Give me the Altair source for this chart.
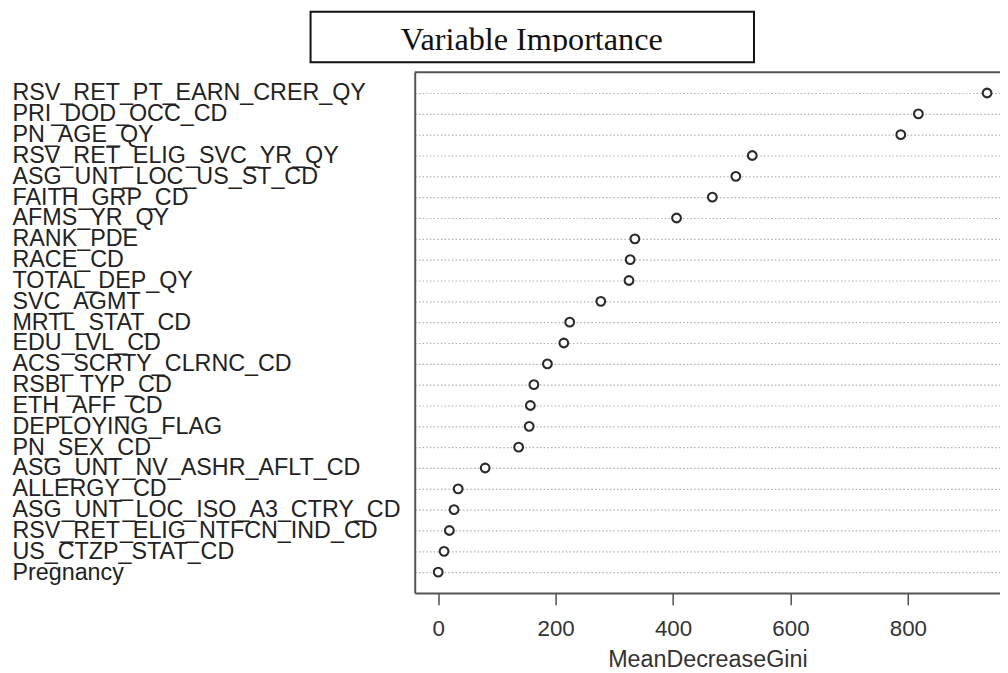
import altair as alt
import pandas as pd

variables = [
    "RSV_RET_PT_EARN_CRER_QY", "PRI_DOD_OCC_CD", "PN_AGE_QY", "RSV_RET_ELIG_SVC_YR_QY",
    "ASG_UNT_LOC_US_ST_CD", "FAITH_GRP_CD", "AFMS_YR_QY", "RANK_PDE", "RACE_CD",
    "TOTAL_DEP_QY", "SVC_AGMT", "MRTL_STAT_CD", "EDU_LVL_CD", "ACS_SCRTY_CLRNC_CD",
    "RSBI_TYP_CD", "ETH_AFF_CD", "DEPLOYING_FLAG", "PN_SEX_CD", "ASG_UNT_NV_ASHR_AFLT_CD",
    "ALLERGY_CD", "ASG_UNT_LOC_ISO_A3_CTRY_CD", "RSV_RET_ELIG_NTFCN_IND_CD",
    "US_CTZP_STAT_CD", "Pregnancy",
]
mean_decrease_gini = [
    935, 818, 788, 535, 507, 467, 406, 335, 327, 325, 277, 224,
    214, 186, 163, 157, 155, 137, 80, 34, 27, 19, 10, 0,
]
x_ticks = [0, 200, 400, 600, 800]
title_text = "Variable Importance"
x_title = "MeanDecreaseGini"

df = pd.DataFrame({"var": variables, "val": mean_decrease_gini})
one = pd.DataFrame({"k": [0]})

W, H = 590, 525
SANS = "Liberation Sans"

x_enc = alt.X(
    "val:Q",
    scale=alt.Scale(domain=[-40, 957], nice=False, zero=False),
    axis=alt.Axis(
        values=x_ticks, format="d", title=x_title, grid=False,
        tickSize=12, tickColor="#333", tickWidth=1.3,
        labelFont=SANS, labelFontSize=22.5, labelColor="#333", labelPadding=13,
        titleFont=SANS, titleFontSize=23.5, titleFontWeight="normal", titleColor="#333",
        titlePadding=8, domainColor="#555", domainWidth=2,
    ),
)
y_enc = alt.Y(
    "var:N",
    sort=variables,
    scale=alt.Scale(type="point", padding=1),
    axis=alt.Axis(
        title=None, ticks=False, tickSize=0, labelAlign="left", labelBaseline="middle",
        labelPadding=406, labelFont=SANS, labelFontSize=23.5, labelColor="#222",
        labelLimit=600, labelOverlap=False, labelBound=False,
        grid=True, gridColor="#b0b0b0", gridDash=[1.5, 2.2], gridWidth=1.2,
        domainColor="#555", domainWidth=2,
    ),
)

points = alt.Chart(df).mark_point(
    shape="circle", size=78, filled=True, fill="white", fillOpacity=1,
    stroke="#2a2a2a", strokeWidth=2.1, opacity=1,
).encode(x=x_enc, y=y_enc)

top_border = alt.Chart(one).mark_rule(color="#555", strokeWidth=2).encode(
    x=alt.value(0), x2=alt.value(W), y=alt.value(0)
)

title_box = alt.Chart(one).mark_rect(
    fill="white", stroke="#111", strokeWidth=2
).encode(x=alt.value(-105), x2=alt.value(342), y=alt.value(-61), y2=alt.value(-10))

title = alt.Chart(one).mark_text(
    text=title_text, font="Liberation Serif", fontSize=32.5, color="#111",
    align="center", baseline="alphabetic",
).encode(x=alt.value(118), y=alt.value(-22))

title_mask = alt.Chart(one).mark_rect(fill="white", stroke=None).encode(
    x=alt.value(-102), x2=alt.value(339), y=alt.value(-20.5), y2=alt.value(-12)
)

chart = alt.layer(points, top_border, title_box, title, title_mask).properties(
    width=W, height=H,
    autosize=alt.AutoSizeParams(type="none"),
    padding={"left": 410, "top": 62, "right": 0, "bottom": 78},
    background="white",
).configure_view(stroke=None)

chart.save("out.html", embed_options={"renderer": "svg", "actions": False})
